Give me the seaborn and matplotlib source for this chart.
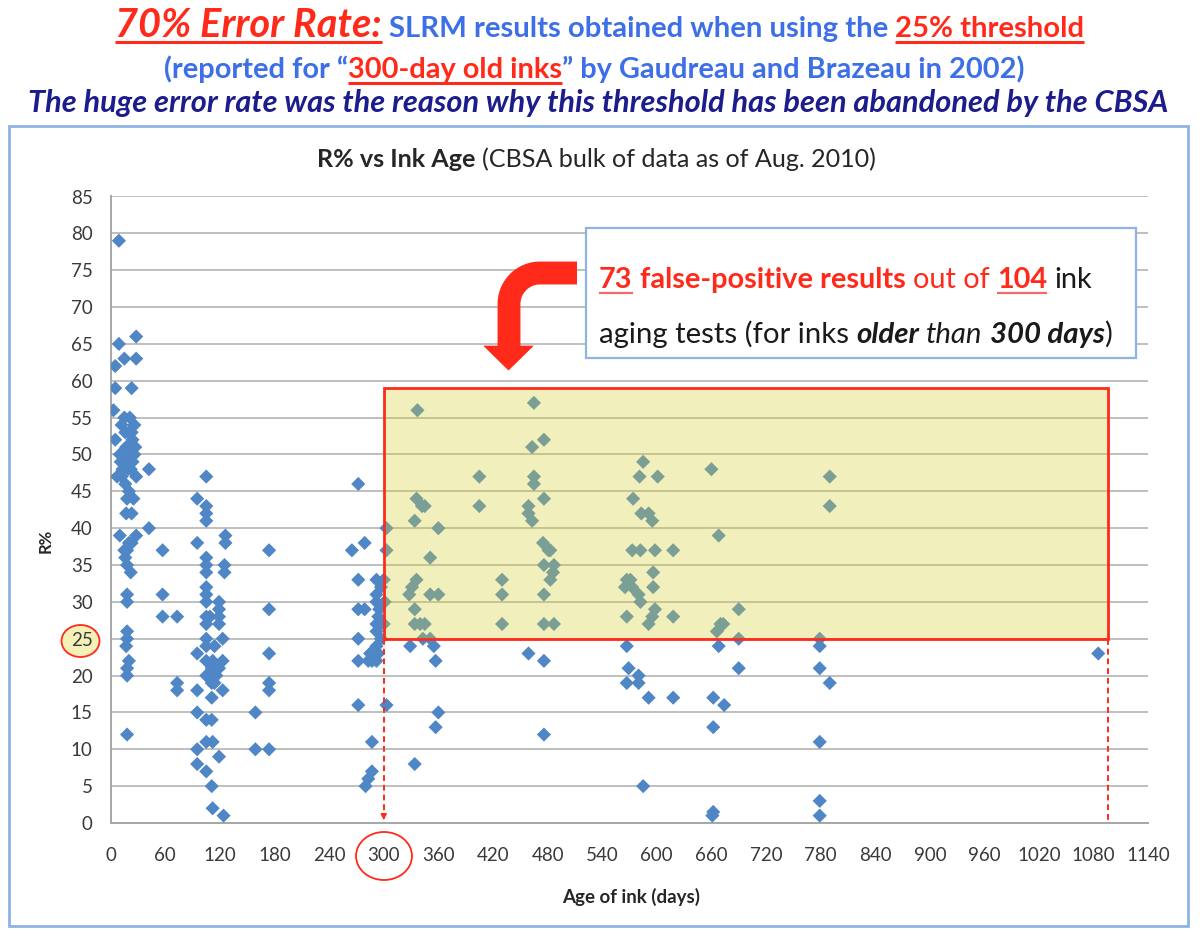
import numpy as np
import pandas as pd
import matplotlib
matplotlib.use("Agg")
import matplotlib.pyplot as plt
import seaborn as sns
from matplotlib.patches import Rectangle, Ellipse, Polygon

# ---------------- data ----------------
age_days = [
    9, 9, 28, 15, 28, 5, 5, 23, 3, 15, 5,
    12, 26, 20, 16, 24, 22, 14, 18, 26, 10, 20, 24, 13, 19, 12, 7, 16, 20, 18, 25, 22, 27, 11, 17, 23, 21,
    42, 28, 17, 23, 10, 28, 42, 23, 18, 16, 18, 22, 18, 18, 18, 18, 17, 20, 18, 18, 18, 15, 20,
    57, 57, 57, 73, 73, 73,
    95, 105, 105, 105, 105, 95, 126, 126, 105, 105, 105, 105, 105, 105, 105, 105, 95, 105, 105, 105,
    111, 105, 111, 111, 95, 95, 105, 111, 105, 112, 95, 95, 105, 111, 112, 124, 119, 119, 119, 119,
    123, 123, 119, 116, 114, 123, 119, 125, 125, 109, 112, 114,
    159, 159, 174, 174, 174, 174, 174, 174,
    272, 265, 279, 272, 292, 272, 279, 292, 292, 294, 292, 292, 292, 272, 272, 285, 287, 292, 283,
    272, 303, 287, 287, 283, 280, 295, 296, 297, 294, 297, 300, 301, 300, 303, 303,
    337, 336, 342, 345, 334, 360, 351, 336, 331, 328, 351, 360, 334, 340, 345, 334, 343, 351,
    465, 476, 463, 405, 465, 465, 405, 476, 459, 459, 463, 475, 481, 483, 476, 487, 486, 483,
    430, 430, 476, 430, 476, 487,
    329, 355, 357, 459, 476, 360, 357, 476, 334,
    585, 581, 601, 660, 574, 583, 591, 595, 668, 573, 582, 598, 618, 596, 567, 571, 565, 573, 596,
    580, 582, 567, 598, 595, 591, 618, 690, 673, 670, 666, 690,
    567, 668, 569, 580, 567, 580, 690, 591, 618, 662, 674, 662, 585, 661, 662,
    779, 779, 779, 779, 779, 779, 790, 790, 790,
    1085,
]
r_percent = [
    79, 65, 66, 63, 63, 62, 59, 59, 56, 55, 52,
    54, 54, 53, 53, 52, 51, 50, 50, 50, 50, 49, 49, 48, 48, 47, 47, 46, 45, 44, 44, 48, 51, 49, 51, 53, 55,
    48, 47, 42, 42, 39, 39, 40, 38, 37, 36, 35, 34, 31, 30, 26, 25, 24, 22, 21, 20, 12, 37, 38,
    37, 31, 28, 28, 19, 18,
    44, 47, 43, 42, 41, 38, 39, 38, 36, 35, 34, 32, 31, 30, 28, 27, 23, 25, 24, 22,
    21, 20, 19, 17, 18, 15, 14, 14, 11, 11, 10, 8, 7, 5, 2, 1, 30, 29, 27, 28,
    25, 22, 21, 20, 19, 18, 9, 35, 34, 28, 22, 24,
    15, 10, 37, 29, 23, 19, 18, 10,
    46, 37, 38, 33, 33, 29, 29, 31, 30, 28, 27, 26, 24, 25, 22, 23, 22, 22, 22,
    16, 16, 11, 7, 6, 5, 29, 27, 25, 23, 32, 33, 30, 27, 40, 37,
    56, 44, 43, 43, 41, 40, 36, 33, 32, 31, 31, 31, 29, 27, 27, 27, 25, 25,
    57, 52, 51, 47, 47, 46, 43, 44, 43, 42, 41, 38, 37, 37, 35, 35, 34, 33,
    33, 31, 31, 27, 27, 27,
    24, 24, 22, 23, 22, 15, 13, 12, 8,
    49, 47, 47, 48, 44, 42, 42, 41, 39, 37, 37, 37, 37, 34, 33, 33, 32, 32, 32,
    31, 30, 28, 29, 28, 27, 28, 29, 27, 27, 26, 25,
    24, 24, 21, 20, 19, 19, 21, 17, 17, 17, 16, 13, 5, 1, 1.5,
    25, 24, 21, 11, 3, 1, 47, 43, 19,
    23,
]
x_ticks = list(range(0, 1141, 60))
y_ticks = list(range(0, 86, 5))
threshold = 25
box_top = 59
old_ink_day = 300
last_day = 1096

# ---------------- style ----------------
sns.set_theme(style="white")
plt.rcParams["font.family"] = ["Lato", "DejaVu Sans"]

RED = "#FF2A1A"
BLUE = "#3D6FE6"
NAVY = "#1C1C8C"
PT = "#4F86C6"
GRID = "#BFBFBF"

W, H = 1200, 938
fig = plt.figure(figsize=(W / 100, H / 100), dpi=100)
fig.patch.set_facecolor("white")

# background overlay (pixel coordinates, y downwards)
bg = fig.add_axes([0, 0, 1, 1], zorder=-1)
bg.set_xlim(0, W); bg.set_ylim(H, 0); bg.axis("off")

# main axes
x0px, x1px, y0px, y1px = 110.7, 1148.3, 823.0, 196.5
ax = fig.add_axes([x0px / W, 1 - y0px / H, (x1px - x0px) / W, (y0px - y1px) / H], zorder=1)
ax.set_facecolor("white")

sns.scatterplot(x=age_days, y=r_percent, marker="D", s=52, color=PT,
                edgecolor="none", linewidth=0, ax=ax, zorder=3, legend=False)

ax.set_xlim(0, 1140)
ax.set_ylim(0, 85)
ax.set_xticks(x_ticks)
ax.set_yticks(y_ticks)
ax.set_xticklabels([str(v) for v in x_ticks])
ax.set_yticklabels([str(v) for v in y_ticks])
ax.yaxis.grid(True, color=GRID, linewidth=1.4)
ax.xaxis.grid(False)
ax.set_axisbelow(True)
for s in ["top", "right"]:
    ax.spines[s].set_visible(False)
for s in ["left", "bottom"]:
    ax.spines[s].set_color("#A6A6A6")
    ax.spines[s].set_linewidth(1.4)
ax.tick_params(axis="both", direction="out", length=5, width=1.2, color="#A6A6A6",
               labelsize=13.5, labelcolor="#3A3A3A")
ax.tick_params(axis="x", pad=12)
ax.tick_params(axis="y", pad=8)
ax.set_xlabel("")
ax.set_ylabel("")

# yellow "false positive" zone
ax.add_patch(Rectangle((old_ink_day, threshold), last_day - old_ink_day, box_top - threshold,
                       facecolor=(215 / 255, 207 / 255, 52 / 255, 0.33), edgecolor="none", zorder=4))
ax.add_patch(Rectangle((old_ink_day, threshold), last_day - old_ink_day, box_top - threshold,
                       facecolor="none", edgecolor=RED, linewidth=2.0, zorder=5))
ax.plot([old_ink_day, old_ink_day], [threshold, 1.0], ls=(0, (3, 2)), color=RED, lw=1.4, zorder=5)
ax.annotate("", xy=(old_ink_day, 0), xytext=(old_ink_day, 1.6),
            arrowprops=dict(arrowstyle="-|>", color=RED, lw=1.0, mutation_scale=9), zorder=5)
ax.plot([last_day, last_day], [threshold, 0], ls=(0, (3, 2)), color=RED, lw=1.4, zorder=5)

# outer chart border and label circles (behind)
bg.add_patch(Rectangle((9, 126), 1179, 800, facecolor="none", edgecolor="#8DB3E2", lw=2.0))
bg.add_patch(Ellipse((80.5, 641), 38, 32, facecolor="#F4F1B8", edgecolor=RED, lw=1.3))
bg.add_patch(Ellipse((384, 856), 56, 48, facecolor="none", edgecolor=RED, lw=1.3))

# foreground overlay
fg = fig.add_axes([0, 0, 1, 1], zorder=10)
fg.set_xlim(0, W); fg.set_ylim(H, 0); fg.axis("off")
fg.patch.set_alpha(0)

REN = fig.canvas.get_renderer()


def tw(s, size, weight, style):
    t = fg.text(0, 0, s, fontsize=size, fontweight=weight, fontstyle=style)
    w = t.get_window_extent(REN).width
    t.remove()
    return w


def fullw(s, size, weight, style):
    return tw("|" + s + "|", size, weight, style) - tw("||", size, weight, style)


def rich(parts, x, y, target=None):
    for p in parts:
        p.setdefault("weight", "normal")
        p.setdefault("style", "normal")
    if target:
        tot = sum(fullw(p["s"], p["size"], p["weight"], p["style"]) for p in parts)
        k = target / tot
        for p in parts:
            p["size"] *= k
    for p in parts:
        s = p["s"]
        w = fullw(s, p["size"], p["weight"], p["style"])
        lead = len(s) - len(s.lstrip(" "))
        lw_ = fullw(" " * lead, p["size"], p["weight"], p["style"]) if lead else 0
        core = s.strip(" ")
        cw = fullw(core, p["size"], p["weight"], p["style"])
        fg.text(x + lw_, y, core, ha="left", va="baseline", fontsize=p["size"],
                fontweight=p["weight"], fontstyle=p["style"], color=p["color"])
        if p.get("ul"):
            c, lw, off = p["ul"]
            fg.plot([x + lw_, x + lw_ + cw], [y + off, y + off], color=c, lw=lw,
                    solid_capstyle="butt")
        x += w
    return x


# title lines
xe = rich([dict(s="70% Error Rate:", size=26, weight="bold", style="italic", color=RED,
                ul=(RED, 2.2, 5))], 115, 37, target=267)
rich([dict(s=" SLRM results obtained when using the ", size=18, weight="bold", color=BLUE),
      dict(s="25% threshold", size=18, weight="bold", color=RED, ul=(RED, 2.2, 5))],
     xe, 37, target=1084 - xe)
rich([dict(s="(reported for \u201c", size=18, weight="bold", color=BLUE),
      dict(s="300-day old inks", size=18, weight="bold", color=RED, ul=(RED, 2.2, 5)),
      dict(s="\u201d by Gaudreau and Brazeau in 2002)", size=18, weight="bold", color=BLUE)],
     164, 78, target=863)
rich([dict(s="The huge error rate was the reason why this threshold has been abandoned by the CBSA",
           size=18, weight="bold", style="italic", color=NAVY)], 28, 112, target=1140)

# chart title
rich([dict(s="R% vs Ink Age", size=13, weight="bold", color="#262626"),
      dict(s=" (CBSA bulk of data as of Aug. 2010)", size=13, color="#262626")],
     317, 167, target=557)

# axis labels
fg.text(631, 897, "Age of ink (days)", ha="center", va="center", fontsize=13.5,
        fontweight="bold", color="#262626")
fg.text(46, 541, "R%", ha="center", va="center", rotation=90, fontsize=12,
        fontweight="bold", color="#262626")

# annotation box
fg.add_patch(Rectangle((586, 228), 550, 130, facecolor="white", edgecolor="#8EB4E3", lw=1.6))
rich([dict(s="73", size=20, weight="bold", color=RED, ul=("#F06A6A", 1.6, 5)),
      dict(s=" false-positive results", size=20, weight="bold", color=RED),
      dict(s=" out of ", size=20, color=RED),
      dict(s="104", size=20, weight="bold", color=RED, ul=("#F06A6A", 1.6, 5)),
      dict(s=" ink", size=20, color="#1A1A1A")], 599, 288, target=494)
rich([dict(s="aging tests (for inks ", size=20, color="#1A1A1A"),
      dict(s="older", size=20, weight="bold", style="italic", color="#1A1A1A"),
      dict(s=" than ", size=20, style="italic", color="#1A1A1A"),
      dict(s="300 days", size=20, weight="bold", style="italic", color="#1A1A1A"),
      dict(s=")", size=20, color="#1A1A1A")], 599, 343, target=515)

# big curved red arrow
tt = np.linspace(0, np.pi / 2, 30)
ax_x = np.concatenate([[577, 540], 540 - 31 * np.sin(tt), [509]])
ax_y = np.concatenate([[273, 273], 304 - 31 * np.cos(tt), [348]])
fg.plot(ax_x, ax_y, color=RED, lw=16.5, solid_capstyle="butt", solid_joinstyle="round")
fg.add_patch(Polygon([(484, 346), (533, 346), (508.5, 370)], closed=True, facecolor=RED,
                     edgecolor=RED, lw=0.5))

fig.savefig("out.png", dpi=100, facecolor="white")
